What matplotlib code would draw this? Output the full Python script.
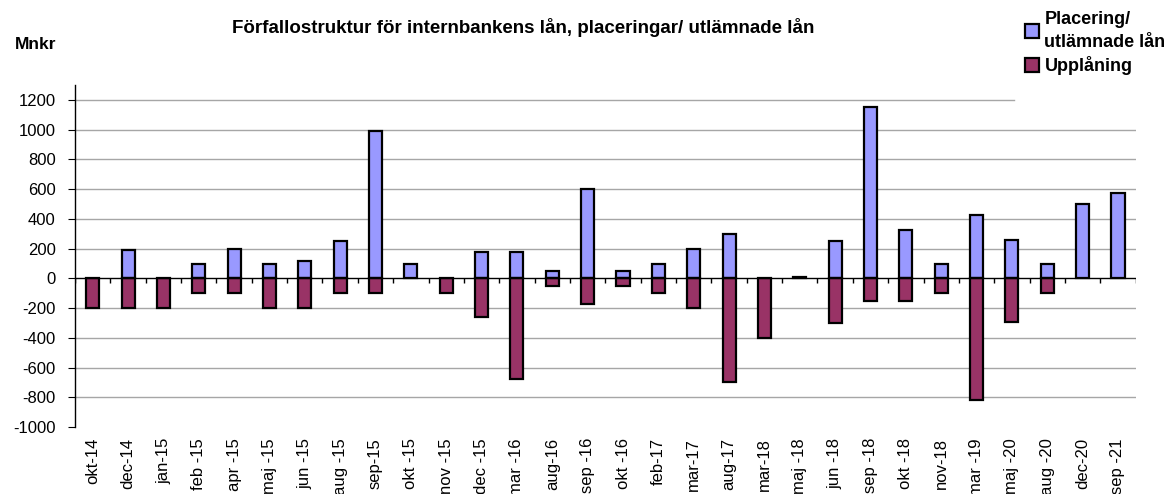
# Förfallostruktur - internbankens lån
import numpy as np
import matplotlib.pyplot as plt

plt.rcParams['font.family'] = ['Liberation Sans', 'DejaVu Sans']

# Data (Mnkr)
labels = ['okt-14', 'dec-14', 'jan-15', 'feb -15', 'apr -15', 'maj -15', 'jun -15',
          'aug -15', 'sep-15', 'okt -15', 'nov -15', 'dec -15', 'mar -16', 'aug-16',
          'sep -16', 'okt -16', 'feb-17', 'mar-17', 'aug-17', 'mar-18', 'maj -18',
          'jun -18', 'sep -18', 'okt -18', 'nov-18', 'mar -19', 'maj -20', 'aug -20',
          'dec-20', 'sep -21']
placering = [0, 190, 0, 100, 200, 100, 115, 250, 990, 100, 0, 175, 175, 50,
             600, 50, 100, 200, 300, 0, 10, 250, 1150, 325, 100, 425, 260, 100,
             500, 575]
upplaning = [-200, -200, -200, -100, -100, -200, -200, -100, -100, 0, -100, -260, -680, -50,
             -170, -50, -100, -200, -700, -400, 0, -300, -150, -150, -100, -820, -295, -100,
             0, 0]

blue = '#9999FF'
red = '#993366'
grid_color = '#a6a6a6'

fig = plt.figure(figsize=(11.72, 4.94), dpi=100)
ax = fig.add_axes([0.064, 0.1356, 0.905, 0.692])

x = np.arange(len(labels))
n = len(labels)
pl = np.array(placering, dtype=float)
up = np.array(upplaning, dtype=float)

# gridlines (top one is cut short by the legend)
for yv in [-800, -600, -400, -200, 200, 400, 600, 800, 1000]:
    ax.axhline(yv, color=grid_color, lw=1, zorder=0)
ax.axhline(1200, xmax=0.885, color=grid_color, lw=1, zorder=0)

# zero values are not drawn at all
mp = pl != 0
mu = up != 0
ax.bar(x[mp], pl[mp], width=0.37, color=blue, edgecolor='black', lw=1.6, zorder=2,
       label='Placering/\nutlämnade lån')
ax.bar(x[mu], up[mu], width=0.37, color=red, edgecolor='black', lw=1.6, zorder=2,
       label='Upplåning')

# zero line with category boundary ticks
ax.axhline(0, color='black', lw=1, zorder=3)
ax.vlines(np.arange(n + 1) - 0.5, -30, 0, color='black', lw=1, zorder=3)

ax.set_xlim(-0.5, n - 0.5)
ax.set_ylim(-1000, 1300)
ax.set_yticks(np.arange(-1000, 1201, 200))
ax.set_yticklabels([str(v) for v in np.arange(-1000, 1201, 200)], fontsize=12)
ax.set_xticks(x)
ax.set_xticklabels(labels, rotation=90, fontsize=12)
ax.tick_params(axis='x', length=0, pad=8)
ax.tick_params(axis='y', direction='out', length=5, color='black', pad=9)

for s in ['top', 'right', 'bottom']:
    ax.spines[s].set_visible(False)
ax.spines['left'].set_color('black')
ax.spines['left'].set_linewidth(1)

fig.text(0.446, 0.945, 'Förfallostruktur för internbankens lån, placeringar/ utlämnade lån',
         ha='center', va='center', fontsize=13.5, fontweight='bold')
fig.text(0.013, 0.91, 'Mnkr', ha='left', va='center', fontsize=12.5, fontweight='bold')

leg = fig.legend(loc='upper left', bbox_to_anchor=(0.865, 1.0), frameon=False,
                 prop={'size': 13, 'weight': 'bold'}, handlelength=0.8, handleheight=0.8,
                 handletextpad=0.3, labelspacing=0.3, borderaxespad=0.2)
leg.get_texts()[0].set_linespacing(1.45)

plt.savefig('out.png', dpi=100)
